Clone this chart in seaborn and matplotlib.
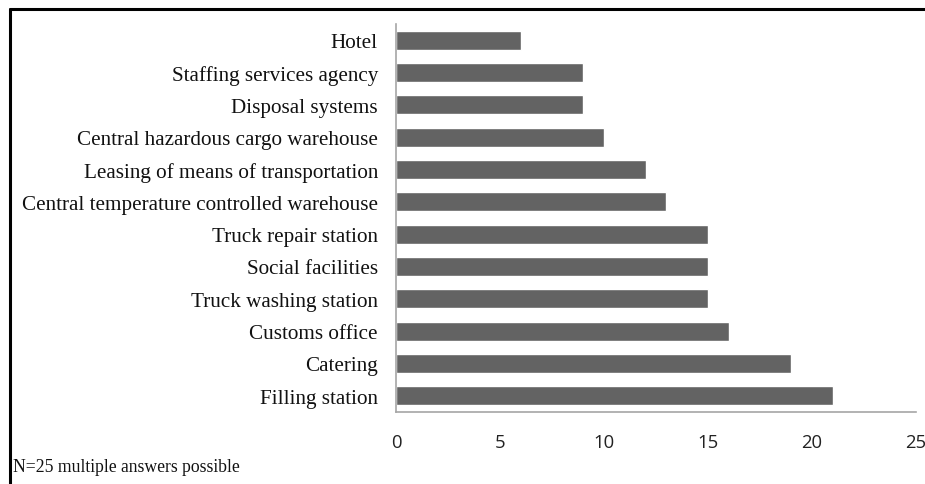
import matplotlib
matplotlib.use("Agg")
import matplotlib.pyplot as plt
import seaborn as sns
import pandas as pd

# data
categories = [
    "Hotel",
    "Staffing services agency",
    "Disposal systems",
    "Central hazardous cargo warehouse",
    "Leasing of means of transportation",
    "Central temperature controlled warehouse",
    "Truck repair station",
    "Social facilities",
    "Truck washing station",
    "Customs office",
    "Catering",
    "Filling station",
]
answers = [6, 9, 9, 10, 12, 13, 15, 15, 15, 16, 19, 21]
x_ticks = [0, 5, 10, 15, 20, 25]

df = pd.DataFrame({"facility": categories, "answers": answers})

sns.set_theme(style="white")

fig = plt.figure(figsize=(9.25, 4.85), dpi=100)
ax = fig.add_axes([396 / 925, 1 - 413 / 485, (916 - 396) / 925, (413 - 25) / 485])

sns.barplot(data=df, x="answers", y="facility", color="#636363", saturation=1,
            width=0.58, ax=ax)

ax.set_xlim(0, 25)
ax.set_xticks(x_ticks)
ax.set_xticklabels([str(t) for t in x_ticks], family="Open Sans", fontsize=13.3,
                   color="#222222")
ax.set_yticks(range(len(categories)))
ax.set_yticklabels(categories, family="Liberation Serif", fontsize=15.2, color="#111111")
ax.tick_params(axis="x", length=0, pad=15)
ax.tick_params(axis="y", length=0, pad=13)
ax.set_xlabel("")
ax.set_ylabel("")

for side in ["top", "right"]:
    ax.spines[side].set_visible(False)
for side in ["left", "bottom"]:
    ax.spines[side].set_color("#a6a6a6")
    ax.spines[side].set_linewidth(1.2)

# outer frame lines (top and left only are visible in the reference)
fig.add_artist(plt.Line2D([10 / 925, 1], [1 - 10 / 485, 1 - 10 / 485],
                          transform=fig.transFigure, color="black", linewidth=2.2))
fig.add_artist(plt.Line2D([10 / 925, 10 / 925], [0, 1 - 10 / 485],
                          transform=fig.transFigure, color="black", linewidth=2.2))

fig.text(13 / 925, 1 - 468 / 485, "N=25 multiple answers possible",
         family="Liberation Serif", fontsize=12.7, va="center", ha="left",
         color="#111111")

fig.savefig("out.png", dpi=100)
